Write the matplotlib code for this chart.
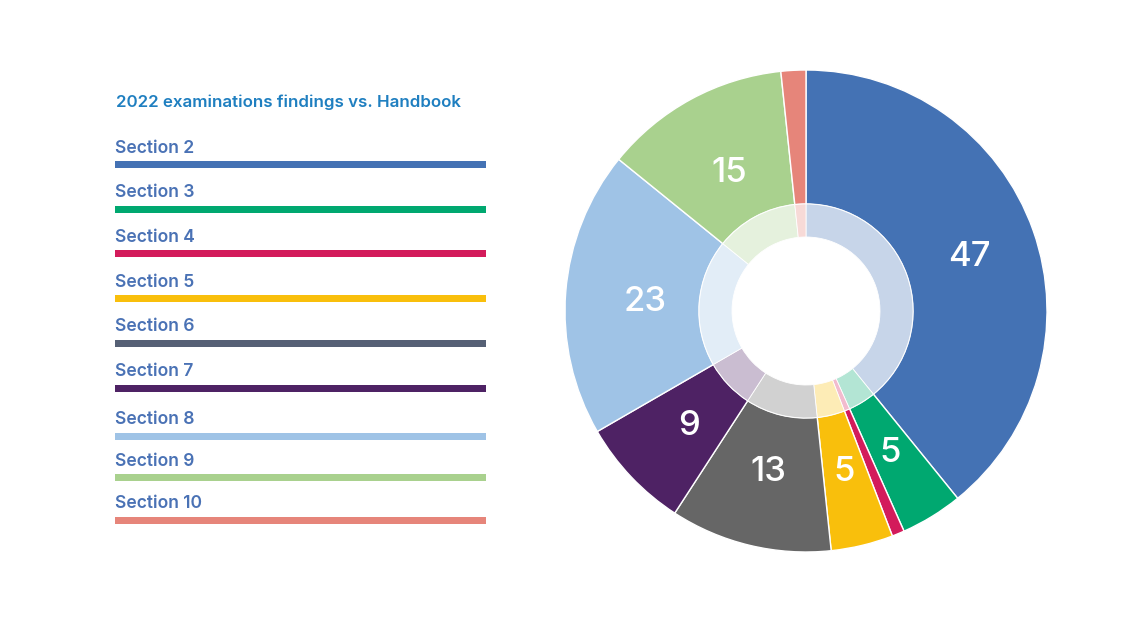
import matplotlib.pyplot as plt
from matplotlib.colors import to_rgb
import numpy as np

plt.rcParams['font.family'] = ['Inter', 'Roboto', 'DejaVu Sans']

# data
sections = ["Section 2", "Section 3", "Section 4", "Section 5", "Section 6",
            "Section 7", "Section 8", "Section 9", "Section 10"]
findings = [47, 5, 1, 5, 13, 9, 23, 15, 2]
pie_colors = ["#4472b4", "#00a870", "#d31b5b", "#f9bf0c", "#666666",
              "#4e2264", "#9fc3e6", "#a9d18e", "#e6857a"]
legend_colors = ["#4472b4", "#00a870", "#d31b5b", "#f9bf0c", "#566075",
                 "#4e2264", "#9fc3e6", "#a9d18e", "#e6857a"]
title = "2022 examinations findings vs. Handbook"

W, H = 1129, 627
fig = plt.figure(figsize=(W / 100, H / 100), dpi=100)

# legend panel drawn in pixel coords
lax = fig.add_axes([0, 0, 1, 1])
lax.set_xlim(0, W)
lax.set_ylim(H, 0)
lax.axis("off")

lax.text(116, 107, title, color="#1f7fc0", fontsize=12.2, fontweight="semibold",
         va="baseline", ha="left")

label_base = [153, 197, 242, 287, 331, 376, 424, 466, 508]
bar_mid = [164.5, 209.5, 253.5, 298, 343, 388, 436, 477, 520]
for name, col, yb, ym in zip(sections, legend_colors, label_base, bar_mid):
    lax.text(115, yb, name, color="#4a72b5", fontsize=12.6, fontweight="semibold",
             va="baseline", ha="left")
    lax.add_patch(plt.Rectangle((115, ym - 3.5), 371, 7, color=col, lw=0))

# donut
cx, cy, R = 806, 311, 241
pax = fig.add_axes([(cx - R) / W, (H - cy - R) / H, 2 * R / W, 2 * R / H])

r_mid = 107 / R
r_hole = 74 / R

wedges, _ = pax.pie(findings, colors=pie_colors, startangle=90, counterclock=False,
                    radius=1, wedgeprops=dict(width=1 - r_mid, edgecolor="white", linewidth=1))

tints = [tuple(0.3 * c + 0.7 for c in to_rgb(col)) for col in pie_colors]
pax.pie(findings, colors=tints, startangle=90, counterclock=False,
        radius=r_mid, wedgeprops=dict(width=r_mid - r_hole, edgecolor="white", linewidth=0.6))

total = sum(findings)
start = 90.0
cap = 13 / R  # half cap height, so digits sit centred on the point
for v in findings:
    span = v / total * 360
    mid = np.deg2rad(start - span / 2)
    start -= span
    if v < 3:
        continue
    rl = 0.72 if v > 40 else 0.67
    pax.text(rl * np.cos(mid), rl * np.sin(mid) - cap, str(v), color="white",
             fontsize=25, fontweight="medium", ha="center", va="baseline")

pax.set_xlim(-1, 1)
pax.set_ylim(-1, 1)
pax.set_aspect("equal")
pax.axis("off")

fig.savefig("out.png", dpi=100)
